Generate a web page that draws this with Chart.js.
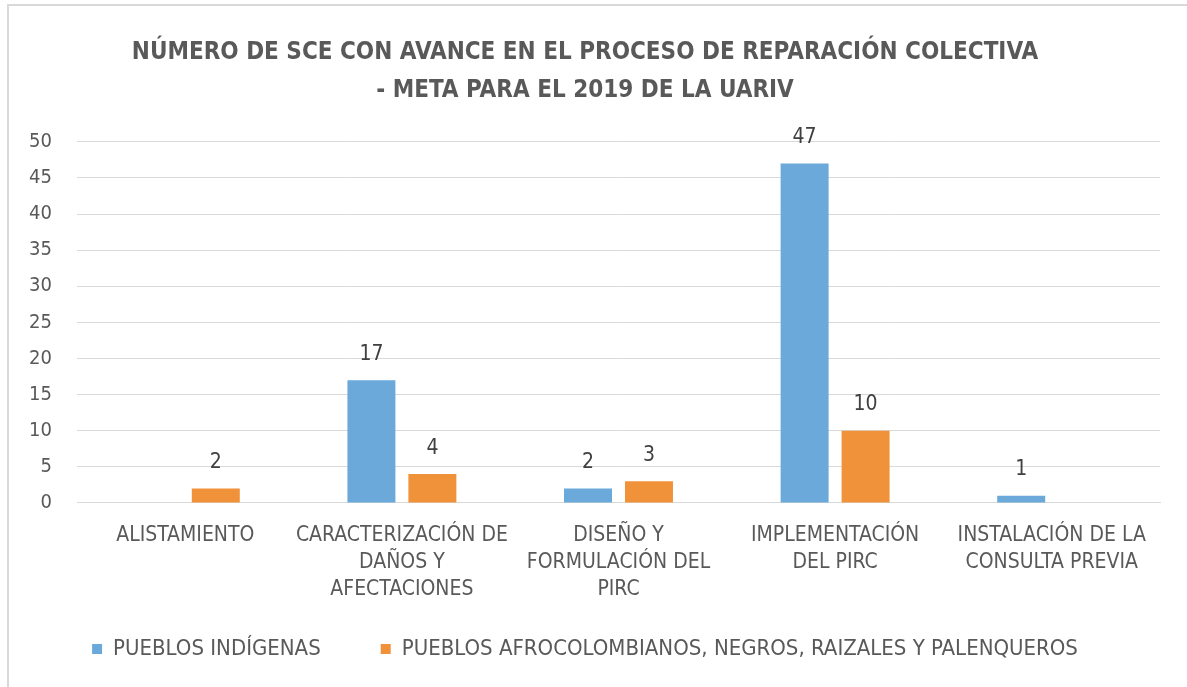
<!DOCTYPE html>
<html>
<head>
<meta charset="utf-8">
<script src="https://cdn.jsdelivr.net/npm/chart.js@4"></script>
<style>
  html, body { margin: 0; padding: 0; background: #fff; }
  #wrap { position: relative; width: 1187px; height: 687px; }
  #frame { position: absolute; left: 7px; top: 4px; right: 0; bottom: 0;
           border-left: 2px solid #D9D9D9; border-top: 2px solid #D9D9D9; }
  canvas { position: absolute; left: 0; top: 0; }
</style>
</head>
<body>
<div id="wrap">
  <div id="frame"></div>
  <canvas id="c" width="1187" height="687"></canvas>
</div>
<script>
const titleLines = ["NÚMERO DE SCE CON AVANCE EN EL PROCESO DE REPARACIÓN COLECTIVA", "- META PARA EL 2019 DE LA UARIV"];
const categories = [
  ["ALISTAMIENTO"],
  ["CARACTERIZACIÓN DE", "DAÑOS Y", "AFECTACIONES"],
  ["DISEÑO Y", "FORMULACIÓN DEL", "PIRC"],
  ["IMPLEMENTACIÓN", "DEL PIRC"],
  ["INSTALACIÓN DE LA", "CONSULTA PREVIA"]
];
const seriesNames = ["PUEBLOS INDÍGENAS", "PUEBLOS AFROCOLOMBIANOS, NEGROS, RAIZALES Y PALENQUEROS"];
const indigenas = [0, 17, 2, 47, 1];
const afro = [2, 4, 3, 10, 0];
const yTicks = [0, 5, 10, 15, 20, 25, 30, 35, 40, 45, 50];

const FONT = "'Liberation Sans Narrow', 'DejaVu Sans Condensed', 'Open Sans', sans-serif";
const TXT = '#595959';

const labelPlugin = {
  id: 'valueLabels',
  afterDatasetsDraw(chart) {
    const ctx = chart.ctx;
    ctx.save();
    ctx.font = "21px " + FONT;
    ctx.fillStyle = '#404040';
    ctx.textAlign = 'center';
    ctx.textBaseline = 'middle';
    chart.data.datasets.forEach((ds, i) => {
      const meta = chart.getDatasetMeta(i);
      meta.data.forEach((el, j) => {
        const v = ds.data[j];
        if (v) ctx.fillText(String(v), el.x, el.y - 26);
      });
    });
    ctx.restore();
  }
};

new Chart(document.getElementById('c'), {
  type: 'bar',
  data: {
    labels: categories,
    datasets: [
      { label: seriesNames[0], data: indigenas, backgroundColor: '#6AA9DA', borderWidth: 0,
        categoryPercentage: 0.563, barPercentage: 0.787 },
      { label: seriesNames[1], data: afro, backgroundColor: '#F0923A', borderWidth: 0,
        categoryPercentage: 0.563, barPercentage: 0.787 }
    ]
  },
  options: {
    responsive: false,
    animation: false,
    devicePixelRatio: 1,
    layout: { padding: { left: 10, right: 27, top: 34, bottom: 17 } },
    plugins: {
      title: {
        display: true,
        text: titleLines,
        color: TXT,
        font: { family: FONT, size: 24, weight: 'bold', lineHeight: 1.58 },
        padding: { top: 0, bottom: 32 }
      },
      legend: {
        position: 'bottom',
        labels: {
          color: TXT,
          font: { family: FONT, size: 22 },
          boxWidth: 10, boxHeight: 10,
          padding: 16,
          useBorderRadius: false,
          generateLabels: (chart) => {
            const items = Chart.defaults.plugins.legend.labels.generateLabels(chart);
            items.forEach((it, i) => { if (i < items.length - 1) it.text = it.text + '       '; });
            return items;
          }
        }
      },
      tooltip: { enabled: false }
    },
    scales: {
      x: {
        grid: { display: false, drawTicks: false },
        border: { display: true, color: '#D9D9D9', width: 1 },
        ticks: { color: TXT, font: { family: FONT, size: 21, lineHeight: 1.286 }, padding: 19, maxRotation: 0, autoSkip: false }
      },
      y: {
        min: 0, max: 50,
        afterBuildTicks: s => { s.ticks = yTicks.map(v => ({ value: v })); },
        afterFit: s => { s.width = 67; },
        grid: { color: '#D9D9D9', lineWidth: 1, drawTicks: false },
        border: { display: false },
        ticks: { color: TXT, font: { family: FONT, size: 20 }, padding: 25 }
      }
    }
  },
  plugins: [labelPlugin]
});
</script>
</body>
</html>
